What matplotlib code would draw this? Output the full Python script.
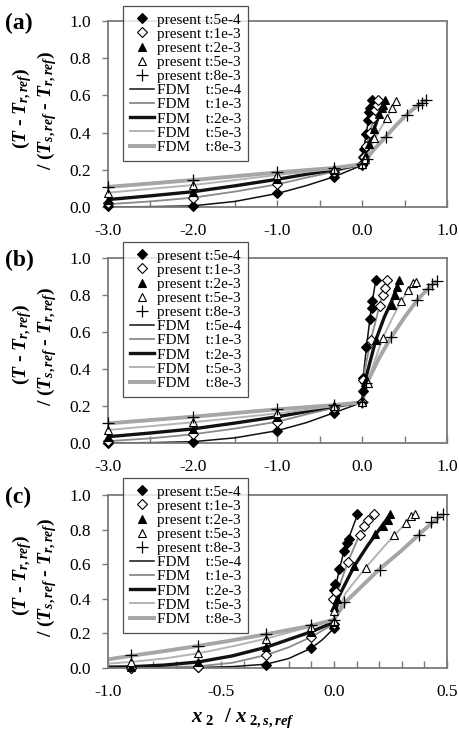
import matplotlib
matplotlib.use('Agg')
import matplotlib.pyplot as plt
from matplotlib.ticker import MultipleLocator, FuncFormatter
from matplotlib.lines import Line2D

plt.rcParams['font.family'] = ['Liberation Serif', 'DejaVu Serif']
plt.rcParams['mathtext.fontset'] = 'custom'
plt.rcParams['mathtext.it'] = 'Liberation Serif:italic:bold'
plt.rcParams['mathtext.rm'] = 'Liberation Serif:bold'
plt.rcParams['mathtext.bf'] = 'Liberation Serif:bold'

times = ['5e-4', '1e-3', '2e-3', '5e-3', '8e-3']
panel_names = ['(a)', '(b)', '(c)']

# ---------------- panel (a) ----------------
a_pres_x = [
    [-3, -2, -1, -0.33, 0, 0.01, 0.02, 0.04, 0.07, 0.085, 0.095, 0.12],
    [-3, -2, -1, -0.33, 0, 0.02, 0.05, 0.09, 0.13, 0.15, 0.17, 0.19],
    [-3, -2, -1, -0.33, 0, 0.03, 0.08, 0.14, 0.2, 0.23, 0.25, 0.27],
    [-3, -2, -1, -0.33, 0, 0.033, 0.138, 0.289, 0.347, 0.394],
    [-3, -2, -1, -0.33, 0, 0.052, 0.277, 0.524, 0.66, 0.70, 0.752],
]
a_pres_y = [
    [0.003, 0.005, 0.073, 0.163, 0.225, 0.27, 0.31, 0.39, 0.47, 0.51, 0.53, 0.575],
    [0.02, 0.05, 0.122, 0.19, 0.23, 0.27, 0.33, 0.40, 0.48, 0.52, 0.55, 0.575],
    [0.04, 0.082, 0.149, 0.20, 0.23, 0.27, 0.34, 0.42, 0.50, 0.53, 0.55, 0.575],
    [0.077, 0.118, 0.172, 0.205, 0.23, 0.26, 0.37, 0.48, 0.53, 0.57],
    [0.108, 0.145, 0.186, 0.21, 0.23, 0.26, 0.378, 0.495, 0.55, 0.56, 0.575],
]
a_fdm_x = [
    [-3, -2.5, -2, -1.5, -1, -0.66, -0.33, 0, 0.01, 0.04, 0.08, 0.12],
    [-3, -2.5, -2, -1.5, -1, -0.66, -0.33, 0, 0.03, 0.09, 0.15, 0.19],
    [-3, -2.5, -2, -1.5, -1, -0.66, -0.33, 0, 0.05, 0.14, 0.21, 0.27],
    [-3, -2, -1, -0.33, 0, 0.05, 0.15, 0.29, 0.4],
    [-3, -2, -1, -0.33, 0, 0.05, 0.15, 0.28, 0.4, 0.52, 0.64, 0.75],
]
a_fdm_y = [
    [0.0, 0.002, 0.006, 0.03, 0.073, 0.115, 0.163, 0.225, 0.27, 0.38, 0.48, 0.575],
    [0.015, 0.03, 0.05, 0.083, 0.122, 0.158, 0.19, 0.23, 0.29, 0.40, 0.50, 0.575],
    [0.04, 0.06, 0.082, 0.114, 0.149, 0.176, 0.20, 0.23, 0.29, 0.42, 0.51, 0.575],
    [0.077, 0.118, 0.172, 0.205, 0.23, 0.275, 0.37, 0.48, 0.57],
    [0.108, 0.145, 0.186, 0.21, 0.23, 0.26, 0.315, 0.378, 0.44, 0.495, 0.54, 0.575],
]

# ---------------- panel (b) ----------------
b_pres_x = [
    [-3, -2, -1, -0.33, 0, 0.005, 0.01, 0.05, 0.09, 0.11, 0.12, 0.16],
    [-3, -2, -1, -0.33, 0, 0.012, 0.10, 0.21, 0.24, 0.27, 0.29],
    [-3, -2, -1, -0.33, 0, 0.03, 0.16, 0.347, 0.386, 0.414, 0.437],
    [-3, -2, -1, -0.33, 0, 0.064, 0.24, 0.457, 0.543, 0.595, 0.634],
    [-3, -2, -1, -0.33, 0, 0.05, 0.339, 0.65, 0.772, 0.82, 0.878],
]
b_pres_y = [
    [0.0, 0.007, 0.067, 0.164, 0.22, 0.28, 0.35, 0.52, 0.67, 0.73, 0.77, 0.88],
    [0.01, 0.047, 0.115, 0.19, 0.22, 0.34, 0.557, 0.74, 0.80, 0.84, 0.88],
    [0.034, 0.076, 0.142, 0.20, 0.22, 0.33, 0.557, 0.746, 0.80, 0.845, 0.88],
    [0.07, 0.112, 0.16, 0.20, 0.22, 0.326, 0.566, 0.767, 0.827, 0.863, 0.872],
    [0.106, 0.142, 0.182, 0.205, 0.22, 0.322, 0.571, 0.773, 0.832, 0.858, 0.876],
]
b_fdm_x = [
    [-3, -2.5, -2, -1.5, -1, -0.66, -0.33, 0, 0.01, 0.05, 0.09, 0.12, 0.16],
    [-3, -2.5, -2, -1.5, -1, -0.66, -0.33, 0, 0.02, 0.10, 0.17, 0.23, 0.29],
    [-3, -2.5, -2, -1.5, -1, -0.66, -0.33, 0, 0.03, 0.16, 0.26, 0.35, 0.44],
    [-3, -2, -1, -0.33, 0, 0.06, 0.24, 0.36, 0.46, 0.55, 0.63],
    [-3, -2, -1, -0.33, 0, 0.05, 0.20, 0.34, 0.50, 0.65, 0.77, 0.88],
]
b_fdm_y = [
    [0.0, 0.002, 0.007, 0.028, 0.067, 0.11, 0.164, 0.22, 0.35, 0.52, 0.67, 0.77, 0.88],
    [0.01, 0.025, 0.047, 0.078, 0.115, 0.155, 0.19, 0.22, 0.37, 0.557, 0.68, 0.79, 0.88],
    [0.034, 0.054, 0.076, 0.108, 0.142, 0.17, 0.20, 0.22, 0.33, 0.557, 0.68, 0.77, 0.88],
    [0.07, 0.112, 0.16, 0.20, 0.22, 0.33, 0.566, 0.68, 0.767, 0.83, 0.872],
    [0.106, 0.142, 0.182, 0.205, 0.22, 0.32, 0.46, 0.571, 0.68, 0.773, 0.832, 0.876],
]

# ---------------- panel (c) ----------------
c_pres_x = [
    [-0.9, -0.6, -0.3, -0.1, 0, 0.002, 0.006, 0.02, 0.044, 0.058, 0.066, 0.103],
    [-0.9, -0.6, -0.3, -0.1, 0, -0.005, 0.008, 0.061, 0.113, 0.133, 0.15, 0.178],
    [-0.9, -0.6, -0.3, -0.1, 0, 0.0, 0.012, 0.088, 0.182, 0.218, 0.237, 0.25],
    [-0.9, -0.6, -0.3, -0.1, 0, 0.0, 0.14, 0.265, 0.32, 0.34, 0.36],
    [-0.9, -0.6, -0.3, -0.1, 0, 0.045, 0.205, 0.374, 0.427, 0.457, 0.482],
]
c_pres_y = [
    [0.0, 0.004, 0.02, 0.115, 0.23, 0.45, 0.485, 0.574, 0.676, 0.72, 0.747, 0.892],
    [0.0, 0.008, 0.075, 0.18, 0.255, 0.40, 0.44, 0.61, 0.766, 0.822, 0.853, 0.892],
    [0.005, 0.036, 0.12, 0.21, 0.265, 0.354, 0.40, 0.59, 0.774, 0.822, 0.857, 0.892],
    [0.036, 0.085, 0.166, 0.239, 0.27, 0.33, 0.58, 0.77, 0.84, 0.876, 0.892],
    [0.075, 0.129, 0.195, 0.25, 0.28, 0.38, 0.568, 0.768, 0.843, 0.87, 0.892],
]
c_fdm_x = [
    [-1.0, -0.8, -0.6, -0.45, -0.3, -0.2, -0.1, -0.05, 0.0, 0.005, 0.02, 0.045, 0.065, 0.085, 0.105],
    [-1.0, -0.8, -0.6, -0.45, -0.3, -0.2, -0.1, 0.0, 0.01, 0.06, 0.11, 0.15, 0.178],
    [-1.0, -0.9, -0.75, -0.6, -0.45, -0.3, -0.2, -0.1, 0.0, 0.02, 0.09, 0.15, 0.2, 0.25],
    [-1.0, -0.9, -0.75, -0.6, -0.45, -0.3, -0.2, -0.1, 0.0, 0.05, 0.14, 0.22, 0.29, 0.36],
    [-1.0, -0.9, -0.75, -0.6, -0.45, -0.3, -0.2, -0.1, 0.0, 0.05, 0.2, 0.3, 0.4, 0.48],
]
c_fdm_y = [
    [0.0, 0.0, 0.003, 0.008, 0.022, 0.055, 0.115, 0.165, 0.23, 0.45, 0.55, 0.68, 0.75, 0.82, 0.89],
    [0.0, 0.002, 0.01, 0.03, 0.075, 0.12, 0.18, 0.255, 0.42, 0.61, 0.76, 0.85, 0.89],
    [0.005, 0.007, 0.017, 0.035, 0.07, 0.12, 0.165, 0.21, 0.265, 0.41, 0.59, 0.71, 0.80, 0.89],
    [0.025, 0.035, 0.055, 0.085, 0.125, 0.17, 0.205, 0.24, 0.28, 0.43, 0.58, 0.70, 0.80, 0.89],
    [0.05, 0.07, 0.098, 0.128, 0.16, 0.195, 0.22, 0.245, 0.28, 0.38, 0.57, 0.68, 0.80, 0.89],
]

# ---------------- styles ----------------
marker_styles = [
    dict(marker='D', ms=4.6, mfc='black', mec='black', mew=0.8),
    dict(marker='D', ms=4.6, mfc='white', mec='black', mew=0.8),
    dict(marker='^', ms=6.0, mfc='black', mec='black', mew=0.8),
    dict(marker='^', ms=6.0, mfc='white', mec='black', mew=0.8),
    dict(marker='+', ms=8.0, mfc='none', mec='black', mew=0.9),
]
line_styles = [
    dict(color='#111111', lw=1.1),
    dict(color='#8a8a8a', lw=1.3),
    dict(color='#111111', lw=2.4),
    dict(color='#b4b4b4', lw=1.4),
    dict(color='#a6a6a6', lw=2.8),
]

W, H = 460, 732
fig = plt.figure(figsize=(W / 100, H / 100), dpi=100)

axes_px = [(21, 207), (258, 443), (495, 668)]
xlims = [(-3, 1), (-3, 1), (-1, 0.5)]
xmajor = [1.0, 1.0, 0.5]
xminor = [0.5, 0.5, 0.1]
pres_x = [a_pres_x, b_pres_x, c_pres_x]
pres_y = [a_pres_y, b_pres_y, c_pres_y]
fdm_x = [a_fdm_x, b_fdm_x, c_fdm_x]
fdm_y = [a_fdm_y, b_fdm_y, c_fdm_y]
legend_top = [6, 242, 478]

spine_col = '#7a7a7a'
left, right = 108, 447

for i in range(3):
    top, bot = axes_px[i]
    ax = fig.add_axes([left / W, 1 - bot / H, (right - left) / W, (bot - top) / H])
    for k in range(5):
        ax.plot(fdm_x[i][k], fdm_y[i][k], zorder=2, solid_capstyle='butt', **line_styles[k])
    for k in range(5):
        ax.plot(pres_x[i][k], pres_y[i][k], ls='none', zorder=3, clip_on=False, **marker_styles[k])
    ax.set_xlim(*xlims[i])
    ax.set_ylim(0, 1.0)
    for s in ax.spines.values():
        s.set_color(spine_col)
        s.set_linewidth(1.3)
    ax.xaxis.set_major_locator(MultipleLocator(xminor[i]))
    step = xmajor[i]
    ax.xaxis.set_major_formatter(FuncFormatter(
        lambda v, p, step=step: ('%.1f' % v) if abs(v / step - round(v / step)) < 1e-6 else ''))
    ax.yaxis.set_major_locator(MultipleLocator(0.2))
    ax.yaxis.set_major_formatter(FuncFormatter(lambda v, p: '%.1f' % v))
    ax.tick_params(axis='x', direction='in', length=5, width=1.0, color=spine_col,
                   labelsize=12.5, pad=11.5, top=False)
    ax.tick_params(axis='y', direction='out', length=4, width=1.0, color=spine_col,
                   labelsize=12.5, pad=8.5, right=False)

    handles = []
    labels = []
    for k in range(5):
        handles.append(Line2D([], [], ls='none', **marker_styles[k]))
        labels.append('present t:' + times[k])
    for k in range(5):
        handles.append(Line2D([], [], **line_styles[k]))
        labels.append('FDM    t:' + times[k])
    leg = ax.legend(handles, labels, loc='upper left',
                    bbox_to_anchor=(123 / W, 1 - legend_top[i] / H),
                    bbox_transform=fig.transFigure, borderaxespad=0,
                    fontsize=11, frameon=True, fancybox=False,
                    handlelength=1.57, handletextpad=0.2, labelspacing=0.03,
                    borderpad=0.45)
    leg.get_frame().set_edgecolor('#222222')
    leg.get_frame().set_linewidth(0.9)
    leg.set_zorder(5)

    ymid = (top + bot) / 2
    fig.text(5 / W, 1 - (top + 2) / H, panel_names[i], fontsize=17, fontweight='bold',
             ha='left', va='center')
    fig.text(22 / W, 1 - (ymid - 6) / H, r'$(T$ - $T_{r,ref})$',
             rotation=90, ha='center', va='center', fontsize=14, fontweight='bold')
    fig.text(47 / W, 1 - (ymid - 4) / H,
             r'/ $(T_{s,ref}$ - $T_{r,ref})$',
             rotation=90, ha='center', va='center', fontsize=14, fontweight='bold')

fig.text(243 / W, 1 - 718 / H, r'$x_{\ 2}\ \ \mathrm{/}\ x_{\ 2,s,ref}$',
         ha='center', va='center', fontsize=15)

fig.savefig('out.png', dpi=100)
